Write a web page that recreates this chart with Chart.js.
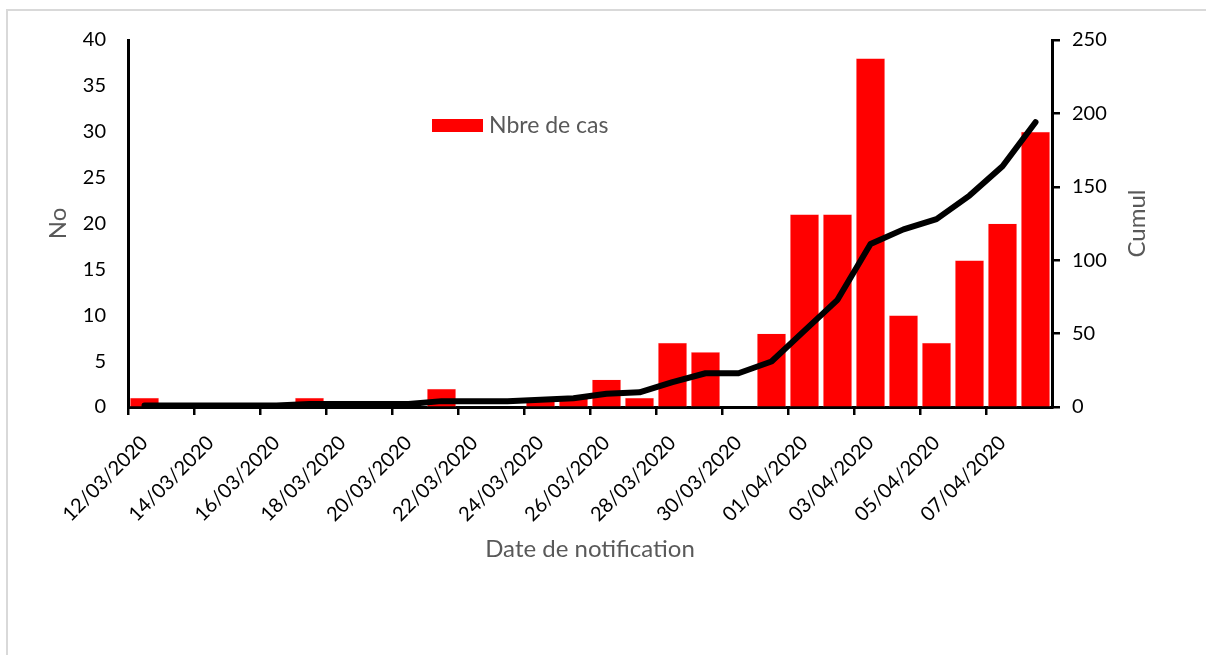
<!DOCTYPE html>
<html>
<head>
<meta charset="utf-8">
<script src="https://cdn.jsdelivr.net/npm/chart.js@4"></script>
<style>
    html, body { margin: 0; padding: 0; background: #fff; }
    #frame {
        position: absolute; left: 6px; top: 9px; width: 1210px; height: 660px;
        border-top: 2px solid #d9d9d9; border-left: 2px solid #d9d9d9;
    }
    #wrap { position: absolute; left: 0; top: 0; width: 1206px; height: 655px; }
</style>
</head>
<body>
<div id="frame"></div>
<div id="wrap"><canvas id="chart"></canvas></div>
<script>
// Daily notifications and running total
const dates = [
    '12/03/2020', '13/03/2020', '14/03/2020', '15/03/2020', '16/03/2020', '17/03/2020', '18/03/2020',
    '19/03/2020', '20/03/2020', '21/03/2020', '22/03/2020', '23/03/2020', '24/03/2020', '25/03/2020',
    '26/03/2020', '27/03/2020', '28/03/2020', '29/03/2020', '30/03/2020', '31/03/2020', '01/04/2020',
    '02/04/2020', '03/04/2020', '04/04/2020', '05/04/2020', '06/04/2020', '07/04/2020', '08/04/2020'
];
const nbreCas = [1, 0, 0, 0, 0, 1, 0, 0, 0, 2, 0, 0, 1, 1, 3, 1, 7, 6, 0, 8, 21, 21, 38, 10, 7, 16, 20, 30];
const cumul = [1, 1, 1, 1, 1, 2, 2, 2, 2, 4, 4, 4, 5, 6, 9, 10, 17, 23, 23, 31, 52, 73, 111, 121, 128, 144, 164, 194];

const FONT = 'Lato, "Liberation Sans", sans-serif';
const GREY = '#595959';

// Legend box inside the plot + right axis title reading bottom-to-top
const extras = {
    id: 'extras',
    afterDraw(chart) {
        const ctx = chart.ctx;
        const bars = chart.data.datasets.find(d => d.type !== 'line');
        const area = chart.chartArea;
        ctx.save();
        ctx.fillStyle = bars.backgroundColor;
        ctx.fillRect(432, 119, 51, 13);
        ctx.fillStyle = GREY;
        ctx.font = '23px ' + FONT;
        ctx.textBaseline = 'middle';
        ctx.fillText(bars.label, 489, 126);

        ctx.translate(1137, (area.top + area.bottom) / 2);
        ctx.rotate(-Math.PI / 2);
        ctx.textAlign = 'center';
        ctx.font = '24px ' + FONT;
        ctx.fillText('Cumul', 0, 0);
        ctx.restore();
    }
};

new Chart(document.getElementById('chart'), {
    type: 'bar',
    data: {
        labels: dates,
        datasets: [
            {
                type: 'line',
                label: 'Cumul',
                data: cumul,
                yAxisID: 'y1',
                borderColor: '#000',
                borderWidth: 6,
                pointRadius: 0,
                borderCapStyle: 'round',
                borderJoinStyle: 'round',
                tension: 0,
                order: 0
            },
            {
                label: 'Nbre de cas',
                data: nbreCas,
                yAxisID: 'y',
                backgroundColor: '#ff0000',
                borderColor: '#ffd0d0',
                borderWidth: 0.5,
                barPercentage: 0.88,
                categoryPercentage: 1,
                order: 1
            }
        ]
    },
    options: {
        responsive: true,
        maintainAspectRatio: false,
        animation: false,
        layout: { padding: { left: 40, right: 53, top: 40, bottom: 87 } },
        plugins: {
            legend: { display: false },
            tooltip: { enabled: false }
        },
        scales: {
            x: {
                afterFit: s => { s.height = 161; },
                border: { display: true, color: '#000', width: 3 },
                grid: {
                    offset: true,
                    drawOnChartArea: false,
                    drawTicks: true,
                    tickLength: 8,
                    lineWidth: 2.5,
                    color: ctx => (ctx.index % 2 === 0 ? '#000' : 'rgba(0,0,0,0)')
                },
                ticks: {
                    autoSkip: false,
                    maxRotation: 45,
                    minRotation: 45,
                    padding: 16,
                    color: '#000',
                    font: { family: FONT, size: 20 },
                    callback: function(value, index) {
                        return index % 2 === 0 ? this.getLabelForValue(value) : '';
                    }
                },
                title: {
                    display: true,
                    text: 'Date de notification',
                    color: GREY,
                    font: { family: FONT, size: 24 },
                    padding: { top: 4, bottom: 4 }
                }
            },
            y: {
                position: 'left',
                min: 0,
                max: 40,
                afterFit: s => { s.width = 88; },
                border: { display: true, color: '#000', width: 3 },
                grid: { drawOnChartArea: false, drawTicks: false },
                ticks: {
                    stepSize: 5,
                    padding: 22,
                    color: '#000',
                    font: { family: FONT, size: 20 }
                },
                title: {
                    display: true,
                    text: 'No',
                    color: GREY,
                    font: { family: FONT, size: 24 },
                    padding: { top: 4, bottom: 4 }
                }
            },
            y1: {
                position: 'right',
                min: 0,
                max: 250,
                afterFit: s => { s.width = 101; },
                border: { display: true, color: '#000', width: 3 },
                grid: {
                    drawOnChartArea: false,
                    drawTicks: true,
                    tickLength: 8,
                    lineWidth: 2.5,
                    color: '#000'
                },
                ticks: {
                    stepSize: 50,
                    padding: 12,
                    color: '#000',
                    font: { family: FONT, size: 20 }
                }
            }
        }
    },
    plugins: [extras]
});
</script>
</body>
</html>
